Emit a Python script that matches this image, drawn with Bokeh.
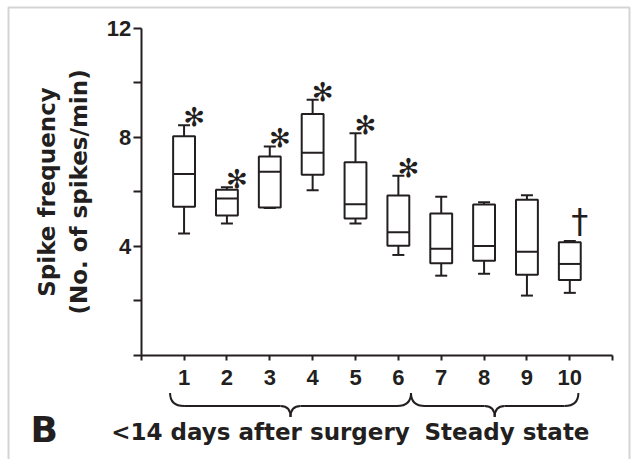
import numpy as np
from bokeh.plotting import figure
from bokeh.models import Range1d, LinearAxis, FixedTicker, BoxAnnotation, ColumnDataSource
from bokeh.core.properties import value
from bokeh.embed import file_html
from bokeh.resources import INLINE

# ---------------- data ----------------
days = [1, 2, 3, 4, 5, 6, 7, 8, 9, 10]
whisker_low = [4.47, 4.83, 5.40, 6.05, 4.83, 3.68, 2.92, 2.99, 2.19, 2.29]
q1 = [5.45, 5.13, 5.42, 6.62, 5.02, 4.02, 3.38, 3.47, 2.95, 2.76]
median = [6.65, 5.75, 6.73, 7.43, 5.54, 4.51, 3.91, 4.01, 3.80, 3.35]
q3 = [8.03, 6.07, 7.29, 8.85, 7.08, 5.86, 5.20, 5.53, 5.70, 4.15]
whisker_high = [8.44, 6.16, 7.66, 9.37, 8.14, 6.58, 5.81, 5.61, 5.87, 4.19]
star_days = [1, 2, 3, 4, 5, 6]
dagger_days = [10]
y_major_ticks = [4, 8, 12]
y_minor_ticks = [0, 2, 6, 10]
x_minor_ticks = [0, 11]
group_labels = ["<14 days after surgery", "Steady state"]
group_first = [1, 7]
group_last = [6, 10]
y_label = "Spike frequency\n(No. of spikes/min)"
panel_letter = "B"

# ---------------- layout constants (pixels) ----------------
W, H = 632, 459
X0_PX, PX_X = 140.7, 42.86
Y0_PX, PX_Y = 354.8, 27.27
INK = "#231f20"
BOLD_FONT = "DejaVu Sans"
TICK_FONT = "Liberation Sans"


def dx(px):
    return (px - X0_PX) / PX_X


def dy(py):
    return (Y0_PX - py) / PX_Y


p = figure(width=W, height=H,
           x_range=Range1d(dx(0), dx(W)), y_range=Range1d(dy(H), dy(0)),
           output_backend="svg", toolbar_location=None,
           x_axis_location=None, y_axis_location=None,
           min_border=0, min_border_left=0, min_border_right=0,
           min_border_top=0, min_border_bottom=0)
p.outline_line_color = None
p.background_fill_color = "white"
p.border_fill_color = "white"
p.xgrid.visible = False
p.ygrid.visible = False

# ---------------- axes ----------------
yaxis = LinearAxis(fixed_location=0, bounds=(0, 12),
                   ticker=FixedTicker(ticks=y_major_ticks, minor_ticks=y_minor_ticks))
xaxis = LinearAxis(fixed_location=0, bounds=(0, 11),
                   ticker=FixedTicker(ticks=days, minor_ticks=x_minor_ticks))
for ax in (yaxis, xaxis):
    ax.axis_line_color = INK
    ax.axis_line_width = 2
    ax.major_tick_line_color = INK
    ax.major_tick_line_width = 2
    ax.minor_tick_line_color = INK
    ax.minor_tick_line_width = 2
    ax.major_tick_in = 0
    ax.minor_tick_in = 0
    ax.major_label_text_font = TICK_FONT
    ax.major_label_text_font_style = "bold"
    ax.major_label_text_font_size = "22px"
    ax.major_label_text_color = INK
yaxis.major_tick_out = 8
yaxis.minor_tick_out = 8
yaxis.major_label_standoff = 2
yaxis.axis_label = y_label
yaxis.axis_label_text_font = BOLD_FONT
yaxis.axis_label_text_font_style = "bold"
yaxis.axis_label_text_font_size = "23px"
yaxis.axis_label_text_color = INK
yaxis.axis_label_standoff = 12
yaxis.axis_label_text_line_height = 1.25
xaxis.major_tick_out = 5
xaxis.minor_tick_out = 5
xaxis.major_label_standoff = 10
p.add_layout(yaxis, "left")
p.add_layout(xaxis, "below")

# ---------------- box plots ----------------
BOX_W = 0.51
CAP_W = 0.28
d = np.array(days, dtype=float)
src = ColumnDataSource(dict(
    day=d, low=whisker_low, q1=q1, med=median, q3=q3, high=whisker_high,
    box_l=d - BOX_W / 2, box_r=d + BOX_W / 2,
    cap_l=d - CAP_W / 2, cap_r=d + CAP_W / 2,
))
p.segment(x0="day", y0="q3", x1="day", y1="high", source=src, line_color=INK, line_width=2)
p.segment(x0="day", y0="low", x1="day", y1="q1", source=src, line_color=INK, line_width=2)
p.vbar(x="day", width=BOX_W, bottom="q1", top="q3", source=src,
       fill_color="white", line_color=INK, line_width=2)
p.segment(x0="box_l", y0="med", x1="box_r", y1="med", source=src, line_color=INK, line_width=2)
p.segment(x0="cap_l", y0="high", x1="cap_r", y1="high", source=src, line_color=INK, line_width=2)
p.segment(x0="cap_l", y0="low", x1="cap_r", y1="low", source=src, line_color=INK, line_width=2)

# significance marks
p.text(x=star_days, y=[whisker_high[k - 1] for k in star_days], text=["\u273b"] * len(star_days),
       text_font=value("DejaVu Sans"), text_font_size="26px", text_color=INK,
       text_align="center", text_baseline="middle", x_offset=10, y_offset=-8)
p.text(x=dagger_days, y=[whisker_high[k - 1] for k in dagger_days], text=["\u2020"] * len(dagger_days),
       text_font=value("DejaVu Sans"), text_font_size="34px", text_color=INK,
       text_align="center", text_baseline="middle", x_offset=10, y_offset=-20)

# ---------------- braces under the x axis ----------------
Y_END, Y_MID, Y_TIP = dy(392.5), dy(405.5), dy(416.5)
R_END, R_TIP = 14 / PX_X, 10 / PX_X
brace_x0 = [group_first[0] - 0.326, (group_last[0] + group_first[1]) / 2 - 0.205]
brace_x1 = [brace_x0[1], group_last[1] + 0.2]
qx0, qy0, qx1, qy1, qcx, qcy = [], [], [], [], [], []
sx0, sx1 = [], []
for a, b in zip(brace_x0, brace_x1):
    m = (a + b) / 2
    # outer ends
    qx0 += [a, b]; qy0 += [Y_END, Y_END]
    qx1 += [a + R_END, b - R_END]; qy1 += [Y_MID, Y_MID]
    qcx += [a, b]; qcy += [Y_MID, Y_MID]
    # central tip
    qx0 += [m - R_TIP, m + R_TIP]; qy0 += [Y_MID, Y_MID]
    qx1 += [m, m]; qy1 += [Y_TIP, Y_TIP]
    qcx += [m, m]; qcy += [Y_MID, Y_MID]
    sx0 += [a + R_END, m + R_TIP]; sx1 += [m - R_TIP, b - R_END]
p.quadratic(x0=qx0, y0=qy0, x1=qx1, y1=qy1, cx=qcx, cy=qcy, line_color=INK, line_width=2)
p.segment(x0=sx0, y0=[Y_MID] * len(sx0), x1=sx1, y1=[Y_MID] * len(sx0), line_color=INK, line_width=2)

# group captions and panel letter
p.text(x=[dx(260), dx(506.5)], y=[dy(431)] * 2, text=group_labels,
       text_font=value(BOLD_FONT), text_font_style="bold", text_font_size="23px", text_color=INK,
       text_align="center", text_baseline="alphabetic")
p.text(x=[dx(30)], y=[dy(429)], text=[panel_letter],
       text_font=value(BOLD_FONT), text_font_style="bold", text_font_size="36px", text_color=INK,
       text_align="left", text_baseline="alphabetic")

# outer frame
p.add_layout(BoxAnnotation(left=dx(8), right=dx(629), top=dy(7), bottom=dy(480),
                           fill_color=None, line_color="#707070", line_width=2))

open("out.html", "w").write(file_html(p, INLINE))
